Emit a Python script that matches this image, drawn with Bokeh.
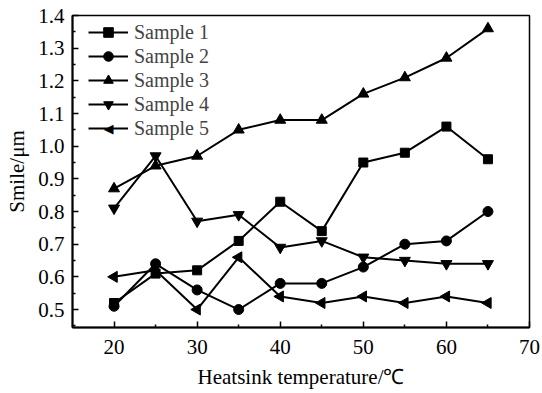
import math
from bokeh.plotting import figure
from bokeh.models import Legend, LegendItem, PrintfTickFormatter, FixedTicker, Range1d, Label
from bokeh.embed import file_html
from bokeh.resources import INLINE

temps = [20, 25, 30, 35, 40, 45, 50, 55, 60, 65]
sample1 = [0.52, 0.61, 0.62, 0.71, 0.83, 0.74, 0.95, 0.98, 1.06, 0.96]
sample2 = [0.51, 0.64, 0.56, 0.50, 0.58, 0.58, 0.63, 0.70, 0.71, 0.80]
sample3 = [0.87, 0.94, 0.97, 1.05, 1.08, 1.08, 1.16, 1.21, 1.27, 1.36]
sample4 = [0.81, 0.97, 0.77, 0.79, 0.69, 0.71, 0.66, 0.65, 0.64, 0.64]
sample5 = [0.60, 0.62, 0.50, 0.66, 0.54, 0.52, 0.54, 0.52, 0.54, 0.52]
labels = ["Sample 1", "Sample 2", "Sample 3", "Sample 4", "Sample 5"]
x_ticks = [20, 30, 40, 50, 60, 70]
y_ticks = [0.5, 0.6, 0.7, 0.8, 0.9, 1.0, 1.1, 1.2, 1.3, 1.4]

FONT = "Liberation Serif"
FS = "21px"

p = figure(width=542, height=393, output_backend="svg", toolbar_location=None,
           x_range=Range1d(15, 70), y_range=Range1d(0.445, 1.4),
           min_border_left=72, min_border_right=13, min_border_top=15, min_border_bottom=66)
p.grid.visible = False
p.outline_line_color = "black"
p.outline_line_width = 1.5
p.background_fill_color = "white"
p.border_fill_color = "white"

series = [sample1, sample2, sample3, sample4, sample5]
markers = [("square", 0, 9), ("circle", 0, 10), ("triangle", 0, 11),
           ("inverted_triangle", 0, 11), ("triangle", math.pi / 2, 11)]
items = []
for i, (lab, ys, (mk, ang, sz)) in enumerate(zip(labels, series, markers)):
    l = p.line(temps, ys, line_color="black", line_width=2)
    s = p.scatter(temps, ys, marker=mk, angle=ang, size=sz, fill_color="black", line_color="black")
    # legend glyphs ignore marker angle, so the left-pointing one is overlaid below
    items.append(LegendItem(label=lab, renderers=[l] if ang else [l, s]))

leg = Legend(items=items, border_line_color=None,
             background_fill_alpha=0, label_text_font=FONT, label_text_font_size="20px",
             glyph_width=40, glyph_height=24, label_height=24, spacing=0,
             padding=0, margin=0, label_standoff=6)
leg.location = (16, 187)
p.add_layout(leg)

p.add_layout(Label(x=36, y=199.5, x_units="screen", y_units="screen", text="◀",
                   text_font="DejaVu Sans", text_font_size="13px", text_color="black",
                   text_align="center", text_baseline="middle"))

for ax in (p.xaxis[0], p.yaxis[0]):
    ax.axis_line_color = "black"
    ax.axis_line_width = 2
    ax.major_tick_in = 6
    ax.major_tick_out = 0
    ax.minor_tick_in = 3
    ax.minor_tick_out = 0
    ax.major_tick_line_width = 1.5
    ax.minor_tick_line_width = 1.5
    ax.major_label_text_font = FONT
    ax.major_label_text_font_size = FS
    ax.major_label_text_color = "black"
    ax.axis_label_text_font = FONT
    ax.axis_label_text_font_size = FS
    ax.axis_label_text_font_style = "normal"
    ax.axis_label_text_color = "black"

p.xaxis.ticker = FixedTicker(ticks=x_ticks, minor_ticks=[25, 35, 45, 55, 65])
p.yaxis.ticker = FixedTicker(ticks=y_ticks,
                             minor_ticks=[0.45, 0.55, 0.65, 0.75, 0.85, 0.95, 1.05, 1.15, 1.25, 1.35])
p.yaxis.formatter = PrintfTickFormatter(format="%.1f")
p.xaxis.axis_label = "Heatsink temperature/℃"
p.yaxis.axis_label = "Smile/μm"
p.xaxis.major_label_standoff = 12
p.yaxis.major_label_standoff = 8
p.xaxis.axis_label_standoff = 8
p.yaxis.axis_label_standoff = 6

open("out.html", "w").write(file_html(p, INLINE))
